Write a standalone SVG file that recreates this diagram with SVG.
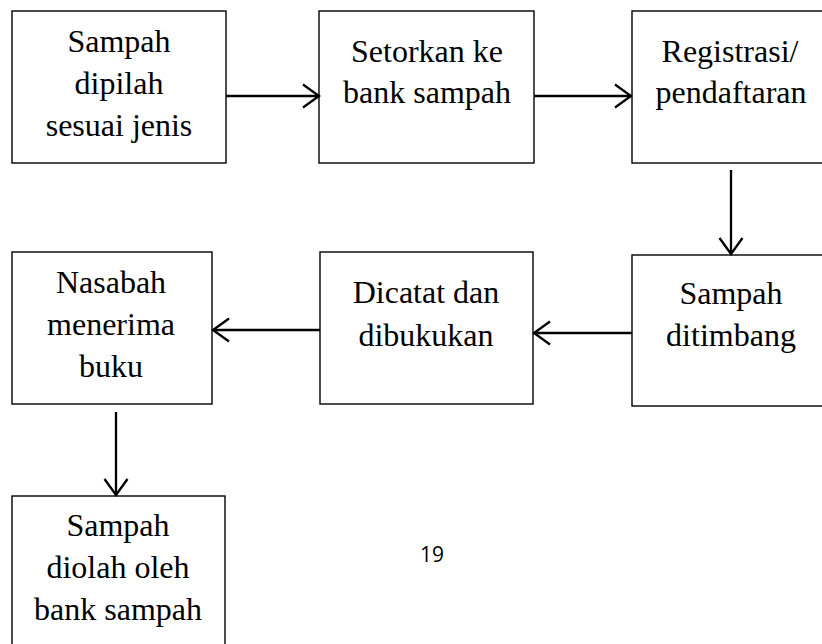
<svg xmlns="http://www.w3.org/2000/svg" width="822" height="644" viewBox="0 0 822 644">
<defs>
<marker id="ah" viewBox="0 0 20 26" refX="18" refY="13" markerWidth="20" markerHeight="26" markerUnits="userSpaceOnUse" orient="auto">
<path d="M2,1.5 L18,13 L2,24.5" fill="none" stroke="#000" stroke-width="2.3"/>
</marker>
</defs>
<style>
.box{fill:#fff;stroke:#000;stroke-width:1.4}
text{font-family:"Liberation Serif","Times New Roman",serif;font-size:32px;text-anchor:middle;fill:#000}
.c line{stroke:#000;stroke-width:2.3;marker-end:url(#ah)}
.pg{font-family:"Open Sans","Liberation Sans",sans-serif;font-size:21px}
</style>
<rect width="822" height="644" fill="#fff"/>
<g id="n1"><rect class="box" x="12" y="11" width="214" height="152"/><text x="119" y="52">Sampah</text><text x="119" y="94">dipilah</text><text x="119" y="136">sesuai jenis</text></g>
<g id="n2"><rect class="box" x="319" y="11" width="215" height="152"/><text x="427" y="62">Setorkan ke</text><text x="427" y="103">bank sampah</text></g>
<g id="n3"><rect class="box" x="632" y="11" width="200" height="152"/><text x="730" y="62">Registrasi/</text><text x="731" y="103">pendaftaran</text></g>
<g id="n4"><rect class="box" x="632" y="255" width="200" height="151"/><text x="731" y="304">Sampah</text><text x="731" y="346">ditimbang</text></g>
<g id="n5"><rect class="box" x="320" y="252" width="213" height="152"/><text x="426" y="303">Dicatat dan</text><text x="426" y="346">dibukukan</text></g>
<g id="n6"><rect class="box" x="12" y="252" width="200" height="152"/><text x="111" y="293">Nasabah</text><text x="111" y="335">menerima</text><text x="111" y="377">buku</text></g>
<g id="n7"><rect class="box" x="12" y="496" width="213" height="160"/><text x="118" y="536">Sampah</text><text x="118" y="578">diolah oleh</text><text x="118" y="620">bank sampah</text></g>
<g class="c" id="connectors">
<line x1="226" y1="96" x2="319" y2="96"/>
<line x1="534" y1="96" x2="631" y2="96"/>
<line x1="731" y1="170" x2="731" y2="254"/>
<line x1="632" y1="333" x2="534" y2="333"/>
<line x1="320" y1="330" x2="213" y2="330"/>
<line x1="116" y1="412" x2="116" y2="495"/>
</g>
<text class="pg" x="432" y="562">19</text>
</svg>
